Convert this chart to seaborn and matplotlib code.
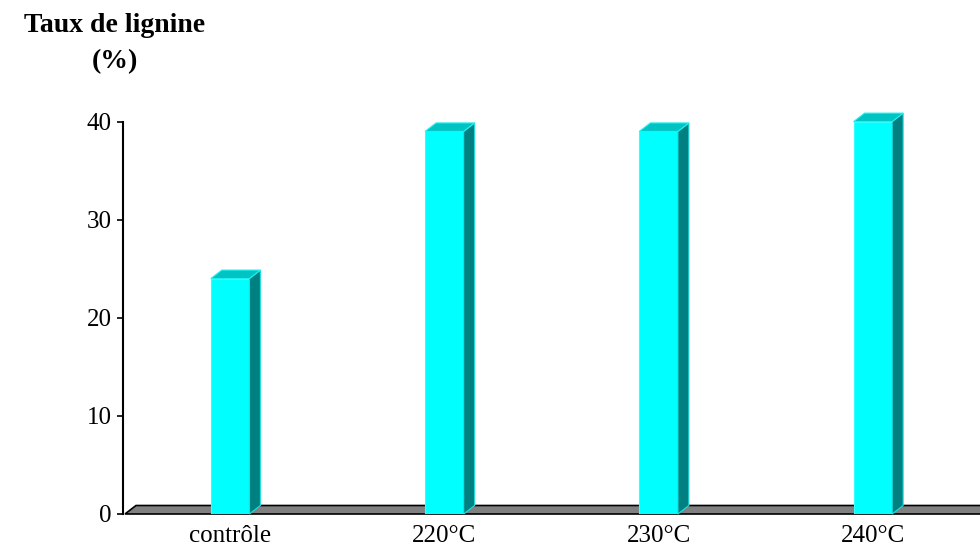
import numpy as np
import matplotlib
matplotlib.use('Agg')
import matplotlib.pyplot as plt
import seaborn as sns
from matplotlib.patches import Polygon

# Données
categories = ['contrôle', '220°C', '230°C', '240°C']
taux_lignine = [24, 39, 39, 40]
y_ticks = [0, 10, 20, 30, 40]

sns.set_style('white')
plt.rcParams['font.family'] = ['Liberation Serif', 'DejaVu Serif']
plt.rcParams['text.color'] = 'black'
plt.rcParams['xtick.color'] = 'black'
plt.rcParams['ytick.color'] = 'black'

fig = plt.figure(figsize=(9.8, 5.46), dpi=100)
ax = fig.add_axes([123 / 980, 32 / 546, 1 - 123 / 980, 412 / 546])

sns.barplot(x=categories, y=taux_lignine, width=0.18, color='#00FFFF',
            saturation=1, ax=ax, zorder=3)

ax.set_xlim(-0.5, 3.5)
ax.set_ylim(0, 42)

# profondeur de l'effet 3D en pixels
DX, DY = 11, 8.5


def decale(x, y, dx=DX, dy=DY):
    px, py = ax.transData.transform((x, y))
    return tuple(ax.transData.inverted().transform((px + dx, py + dy)))


# plancher gris
x0, x1 = -0.5, 3.6
sol = [decale(x0, 0, 2, 0), (x1, 0), decale(x1, 0), decale(x0, 0, 2 + DX, DY)]
ax.add_patch(Polygon(sol, closed=True, facecolor='#808080', edgecolor='black',
                     linewidth=1.2, zorder=1, clip_on=False))

# faces latérales et supérieures des barres
for p in list(ax.patches):
    if isinstance(p, Polygon):
        continue
    xl = p.get_x()
    xr = xl + p.get_width()
    h = p.get_height()
    p.set_edgecolor('#33FFFF')
    p.set_linewidth(0.8)
    cote = [(xr, 0), decale(xr, 0), decale(xr, h), (xr, h)]
    dessus = [(xl, h), (xr, h), decale(xr, h), decale(xl, h)]
    ax.add_patch(Polygon(cote, closed=True, facecolor='#008080',
                         edgecolor='#20E0E0', linewidth=0.8, zorder=3, clip_on=False))
    ax.add_patch(Polygon(dessus, closed=True, facecolor='#00C4C4',
                         edgecolor='#20F0F0', linewidth=0.8, zorder=3, clip_on=False))

# axes
for s in ['top', 'right', 'bottom']:
    ax.spines[s].set_visible(False)
ax.spines['left'].set_bounds(0, 40)
ax.spines['left'].set_linewidth(1.5)
ax.spines['left'].set_color('black')
ax.set_yticks(y_ticks)
ax.tick_params(axis='y', length=4, width=1.2, pad=4, labelsize=18, direction='out', left=True)
ax.tick_params(axis='x', length=0, pad=8, labelsize=18)
ax.set_xlabel('')
ax.set_ylabel('')

fig.text(115 / 980, 1 - 13 / 546, 'Taux de lignine\n(%)', ha='center', va='top',
         fontsize=20, fontweight='bold', linespacing=1.6)

fig.savefig('out.png', dpi=100)
